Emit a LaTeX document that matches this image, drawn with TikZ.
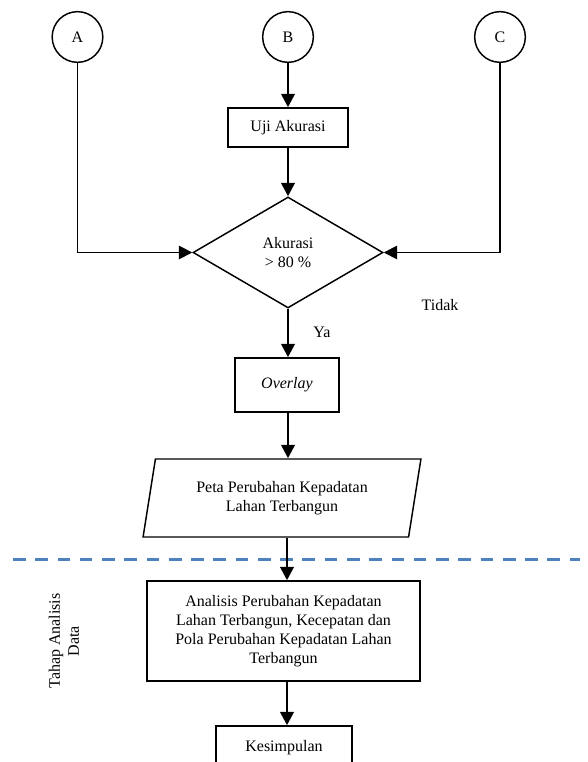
\documentclass[tikz,border=0pt]{standalone}
\usepackage{fontspec}
\setmainfont{Liberation Serif}
\usetikzlibrary{shapes.geometric, arrows.meta}

\definecolor{garisbiru}{RGB}{79,129,189}

\tikzset{
    konektor/.style={circle, draw, line width=1.1pt, minimum size=38pt, inner sep=0pt},
    proses/.style={rectangle, draw, line width=1.1pt, inner sep=0pt, align=center},
    keputusan/.style={diamond, draw, line width=1.1pt, inner sep=0pt, align=center,
        minimum width=142.5pt, minimum height=83.25pt},
    dataio/.style={trapezium, draw, line width=1.1pt, inner sep=0pt, align=center,
        trapezium left angle=76, trapezium right angle=104, trapezium stretches=true,
        minimum width=208.5pt, minimum height=58.5pt},
    panah/.style={-{Triangle[length=10pt,width=10pt]}, line width=2pt},
    panahtipis/.style={panah, line width=1.3pt},
    batas/.style={garisbiru, line width=2.25pt, dash pattern=on 9.5pt off 7.2pt}
}

\begin{document}
\begin{tikzpicture}[x=0.75pt, y=-0.75pt, font=\fontsize{12}{14.25}\selectfont]
    \useasboundingbox (0,0) rectangle (587,762);

    % penghubung
    \node[konektor] (A) at (77.5, 37) {A};
    \node[konektor] (B) at (288, 37) {B};
    \node[konektor] (C) at (500, 37) {C};

    % alur utama
    \node[proses, minimum width=90pt, minimum height=29.25pt] (uji) at (288, 127.5) {Uji Akurasi};
    \node[keputusan] (akurasi) at (288, 252.5) {Akurasi\\> 80 \%};
    \node[proses, minimum width=78pt, minimum height=40.5pt] (overlay) at (287, 385) {\textit{Overlay}};
    \node[dataio] (peta) at (282, 498) {Peta Perubahan Kepadatan\\Lahan Terbangun};
    \node[proses, minimum width=204.75pt, minimum height=75pt] (analisis) at (283.5, 631)
        {Analisis Perubahan Kepadatan\\Lahan Terbangun, Kecepatan dan\\Pola Perubahan Kepadatan Lahan\\Terbangun};
    \node[proses, minimum width=102pt, minimum height=33pt] (kesimpulan) at (284, 748) {Kesimpulan};

    % label
    \node (ya) at (322, 332) {Ya};
    \node (tidak) at (440, 305) {Tidak};
    \node[rotate=90, align=center] (tahap) at (64, 641) {Tahap Analisis\\Data};

    % batas tahap
    \draw[batas] (13, 559) coordinate (batasKiri) -- (580, 559) coordinate (batasKanan);

    % panah
    \draw[panah] (B) -- (uji);
    \draw[panah] (uji) -- (akurasi);
    \draw[panahtipis] (A) |- (akurasi.west);
    \draw[panahtipis] (C) |- (akurasi.east);
    \draw[panah] (akurasi.south) -- (akurasi.south |- overlay.north);
    \draw[panah] (overlay.south -| akurasi) -- (akurasi |- peta.north);
    \draw[panah] (peta.south -| overlay) -- (analisis.north -| overlay);
    \draw[panah] (analisis.south -| overlay) -- (kesimpulan.north -| overlay);
\end{tikzpicture}
\end{document}
